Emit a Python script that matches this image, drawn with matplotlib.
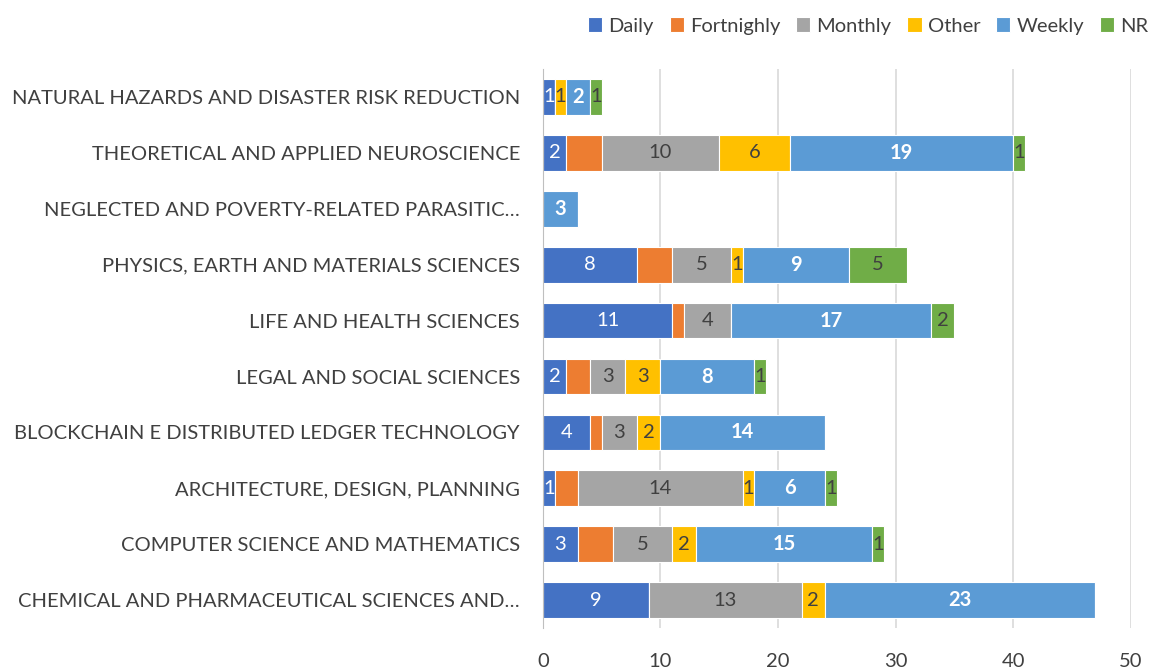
import numpy as np
import matplotlib.pyplot as plt

# categories from bottom to top
categories = [
    "CHEMICAL AND PHARMACEUTICAL SCIENCES AND…",
    "COMPUTER SCIENCE AND MATHEMATICS",
    "ARCHITECTURE, DESIGN, PLANNING",
    "BLOCKCHAIN E DISTRIBUTED LEDGER TECHNOLOGY",
    "LEGAL AND SOCIAL SCIENCES",
    "LIFE AND HEALTH SCIENCES",
    "PHYSICS, EARTH AND MATERIALS SCIENCES",
    "NEGLECTED AND POVERTY-RELATED PARASITIC…",
    "THEORETICAL AND APPLIED NEUROSCIENCE",
    "NATURAL HAZARDS AND DISASTER RISK REDUCTION",
]

daily = [9, 3, 1, 4, 2, 11, 8, 0, 2, 1]
fortnighly = [0, 3, 2, 1, 2, 1, 3, 0, 3, 0]
monthly = [13, 5, 14, 3, 3, 4, 5, 0, 10, 0]
other = [2, 2, 1, 2, 3, 0, 1, 0, 6, 1]
weekly = [23, 15, 6, 14, 8, 17, 9, 3, 19, 2]
nr = [0, 1, 1, 0, 1, 2, 5, 0, 1, 1]

series_names = ["Daily", "Fortnighly", "Monthly", "Other", "Weekly", "NR"]
series = [daily, fortnighly, monthly, other, weekly, nr]
colors = ["#4472c4", "#ed7d31", "#a5a5a5", "#ffc000", "#5b9bd5", "#70ad47"]
label_colors = ["white", None, "#404040", "#404040", "white", "#404040"]
label_bold = [False, False, False, False, True, False]

plt.rcParams["font.family"] = ["Lato", "DejaVu Sans"]

fig = plt.figure(figsize=(11.55, 6.69), dpi=100)
ax = fig.add_axes([0.470, 0.061, 0.509, 0.836])

y = np.arange(len(categories))
left = np.zeros(len(categories))
for name, vals, col, lc, bold in zip(series_names, series, colors, label_colors, label_bold):
    vals = np.array(vals, dtype=float)
    bars = ax.barh(y, vals, left=left, height=0.64, color=col, label=name,
                   edgecolor="white", linewidth=0.8, zorder=3)
    if lc is not None:
        for b, v in zip(bars, vals):
            if v > 0:
                ax.text(b.get_x() + b.get_width() / 2, b.get_y() + b.get_height() / 2,
                        f"{int(v)}", ha="center", va="center", color=lc,
                        fontsize=14.5, fontweight="bold" if bold else "normal", zorder=4)
    left += vals

ax.set_xlim(0, 50)
ax.set_ylim(-0.5, len(categories) - 0.5)
ax.set_xticks(range(0, 51, 10))
ax.set_yticks(y)
ax.set_yticklabels(categories, fontsize=14.5, color="#404040")
ax.tick_params(axis="x", labelsize=14.5, colors="#404040", length=0, pad=18)
ax.tick_params(axis="y", length=0, pad=16.5)
ax.grid(axis="x", color="#d9d9d9", linewidth=1.2, zorder=0)
for s in ["top", "right", "bottom"]:
    ax.spines[s].set_visible(False)
ax.spines["left"].set_color("#bfbfbf")
ax.spines["left"].set_zorder(5)

fig.legend(loc="upper right", bbox_to_anchor=(1.01, 1.001), ncol=6, frameon=False,
           fontsize=14.5, handlelength=0.7, handleheight=0.7, handletextpad=0.3,
           columnspacing=0.8, labelcolor="#404040")

fig.savefig("out.png", dpi=100)
